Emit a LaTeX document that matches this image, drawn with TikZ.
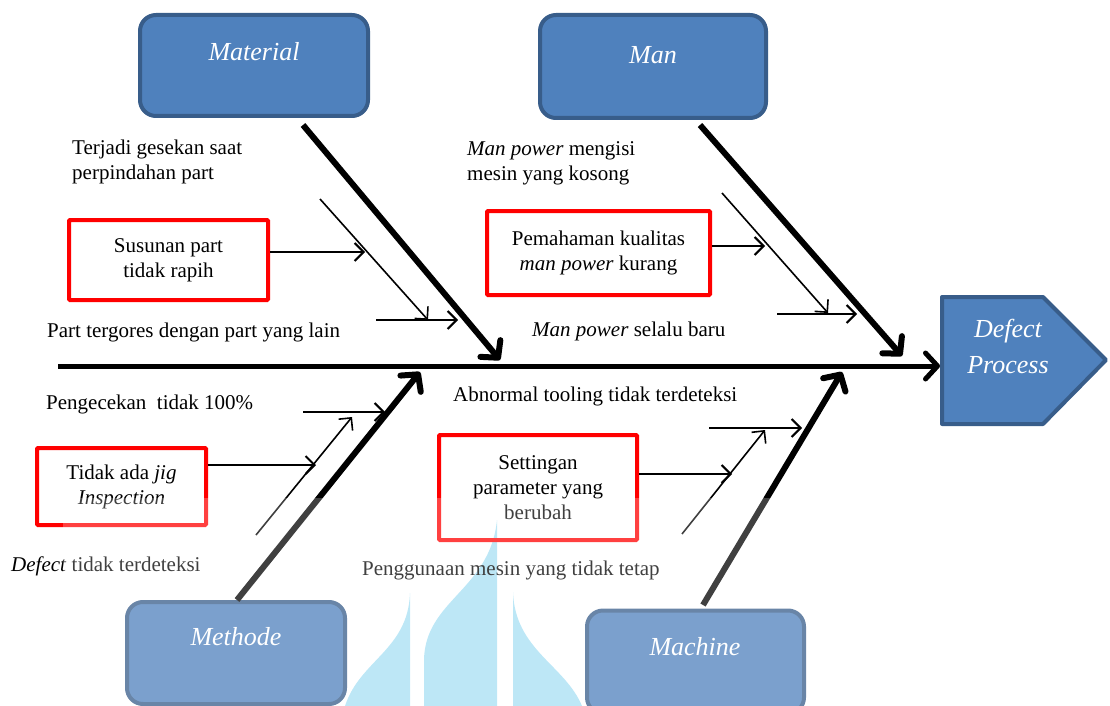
\documentclass[tikz,border=0pt]{standalone}
\usepackage{fontspec}
\setmainfont{Liberation Serif}
\usetikzlibrary{arrows.meta}
\definecolor{catfill}{HTML}{4F81BD}
\definecolor{catline}{HTML}{385D8A}
\definecolor{wmark}{HTML}{A7E0F4}
\tikzset{
  catbox/.style={draw=catline, fill=catfill, line width=4pt, rounded corners=16pt, inner sep=0pt},
  cattitle/.style={text=white, font=\fontsize{26}{30}\selectfont\itshape, inner sep=0pt},
  causebox/.style={draw=red, line width=4pt, rounded corners=1pt, align=center, inner sep=0pt, font=\fontsize{21}{25}\selectfont},
  cause/.style={anchor=west, align=left, inner sep=0pt, font=\fontsize{21}{25}\selectfont},
  bone/.style={line width=6pt, -{Straight Barb[length=12pt,width=26pt,round]}},
  twig/.style={line width=1.6pt, -{Straight Barb[length=9pt,width=18pt]}},
  twigh/.style={line width=2pt, -{Straight Barb[length=9pt,width=18pt]}},
}
\begin{document}
\begin{tikzpicture}[x=1pt,y=-1pt]
\useasboundingbox (0,0) rectangle (1110,706);
\clip (0,0) rectangle (1110,706);
% watermark
\fill[wmark] (497,520) .. controls (490,590) and (425,600) .. (424,660) -- (424,706) -- (497,706) -- cycle;
\fill[wmark] (410,593) .. controls (408,650) and (360,660) .. (345,706) -- (410,706) -- cycle;
\fill[wmark] (513,592) .. controls (515,650) and (565,665) .. (582,706) -- (513,706) -- cycle;
% categories
\node[catbox, minimum width=228pt, minimum height=101pt] (material) at (254,65.5) {};
\node[cattitle] (materialt) at (254,52) {Material};
\node[catbox, minimum width=226pt, minimum height=103pt] (man) at (653,66.5) {};
\node[cattitle] (mant) at (653,55) {Man};
\node[catbox, minimum width=218pt, minimum height=102pt] (methode) at (236,653) {};
\node[cattitle] (methodet) at (236,637) {Methode};
\node[catbox, minimum width=217pt, minimum height=103pt] (machine) at (695.5,662) {};
\node[cattitle] (machinet) at (695,647) {Machine};
% effect head
\draw[catline, fill=catfill, line width=4pt, line join=round] (942,297) -- (1043,297) -- (1106,360) -- (1043,424) -- (942,424) -- cycle;
\node[cattitle, align=center, font=\fontsize{26}{36}\selectfont\itshape] (effect) at (1008,346) {Defect\\Process};
\coordinate (head) at (940,366);
% spine and bones
\coordinate (tail) at (58,366);
\draw[line width=5pt, -{Straight Barb[length=12pt,width=26pt,round]}] (tail) -- (head);
\coordinate (matstart) at (303,125);
\coordinate (mattip) at (500,360);
\coordinate (manstart) at (700,125);
\coordinate (mantip) at (902,356);
\coordinate (metstart) at (237,600);
\coordinate (mettip) at (420,372);
\coordinate (macstart) at (703,605);
\coordinate (mactip) at (842,372);
\draw[bone] (matstart) -- (mattip);
\draw[bone] (manstart) -- (mantip);
\draw[bone] (metstart) -- (mettip);
\draw[bone] (macstart) -- (mactip);
% material causes
\node[cause] (gesekan) at (72,162) {Terjadi gesekan saat\\perpindahan part};
\node[causebox, minimum width=199pt, minimum height=80pt] (susunan) at (168.5,260) {Susunan part\\tidak rapih};
\node[cause] (tergores) at (47,332) {Part tergores dengan part yang lain};
\coordinate (ga) at (320,199);
\coordinate (gb) at (428,320);
\coordinate (sb) at (365,252);
\coordinate (ta) at (376,320);
\coordinate (tb) at (458,320);
\draw[twig] (ga) -- (gb);
\draw[twigh] (sb -| susunan.east) -- (sb);
\draw[twigh] (ta) -- (tb);
% man causes
\node[cause] (mengisi) at (467,163) {\textit{Man power} mengisi\\mesin yang kosong};
\node[causebox, minimum width=223pt, minimum height=84pt] (pemahaman) at (598.5,253) {Pemahaman kualitas\\\textit{man power} kurang};
\node[cause] (baru) at (532,331) {\textit{Man power} selalu baru};
\coordinate (ma) at (722,193);
\coordinate (mb) at (828,313);
\coordinate (pb) at (765,246);
\coordinate (ba) at (777,314);
\coordinate (bb) at (857,314);
\draw[twig] (ma) -- (mb);
\draw[twigh] (pb -| pemahaman.east) -- (pb);
\draw[twigh] (ba) -- (bb);
% methode causes
\node[cause] (pengecekan) at (46,404) {Pengecekan\ \ tidak 100\%};
\node[causebox, minimum width=169pt, minimum height=77pt] (jig) at (121.5,486.5) {Tidak ada \textit{jig}\\\textit{Inspection}};
\node[cause] (terdeteksi) at (11,566) {\textit{Defect} tidak terdeteksi};
\coordinate (ca) at (303,412);
\coordinate (cb) at (385,412);
\coordinate (da) at (256,535);
\coordinate (db) at (352,417);
\coordinate (jb) at (316,465);
\draw[twigh] (ca) -- (cb);
\draw[twig] (da) -- (db);
\draw[twigh] (jb -| jig.east) -- (jb);
% machine causes
\node[cause] (abnormal) at (453,396) {Abnormal tooling tidak terdeteksi};
\node[causebox, minimum width=198pt, minimum height=105pt] (setting) at (538,487.5) {Settingan\\parameter yang\\berubah};
\node[cause] (penggunaan) at (362,570) {Penggunaan mesin yang tidak tetap};
\coordinate (aa) at (709,428);
\coordinate (ab) at (802,428);
\coordinate (ua) at (682,534);
\coordinate (ub) at (765,430);
\coordinate (stb) at (732,474);
\draw[twigh] (aa) -- (ab);
\draw[twig] (ua) -- (ub);
\draw[twigh] (stb -| setting.east) -- (stb);
% faded lower part
\fill[white, opacity=0.25] (63,498) rectangle (1110,706);
\end{tikzpicture}
\end{document}
